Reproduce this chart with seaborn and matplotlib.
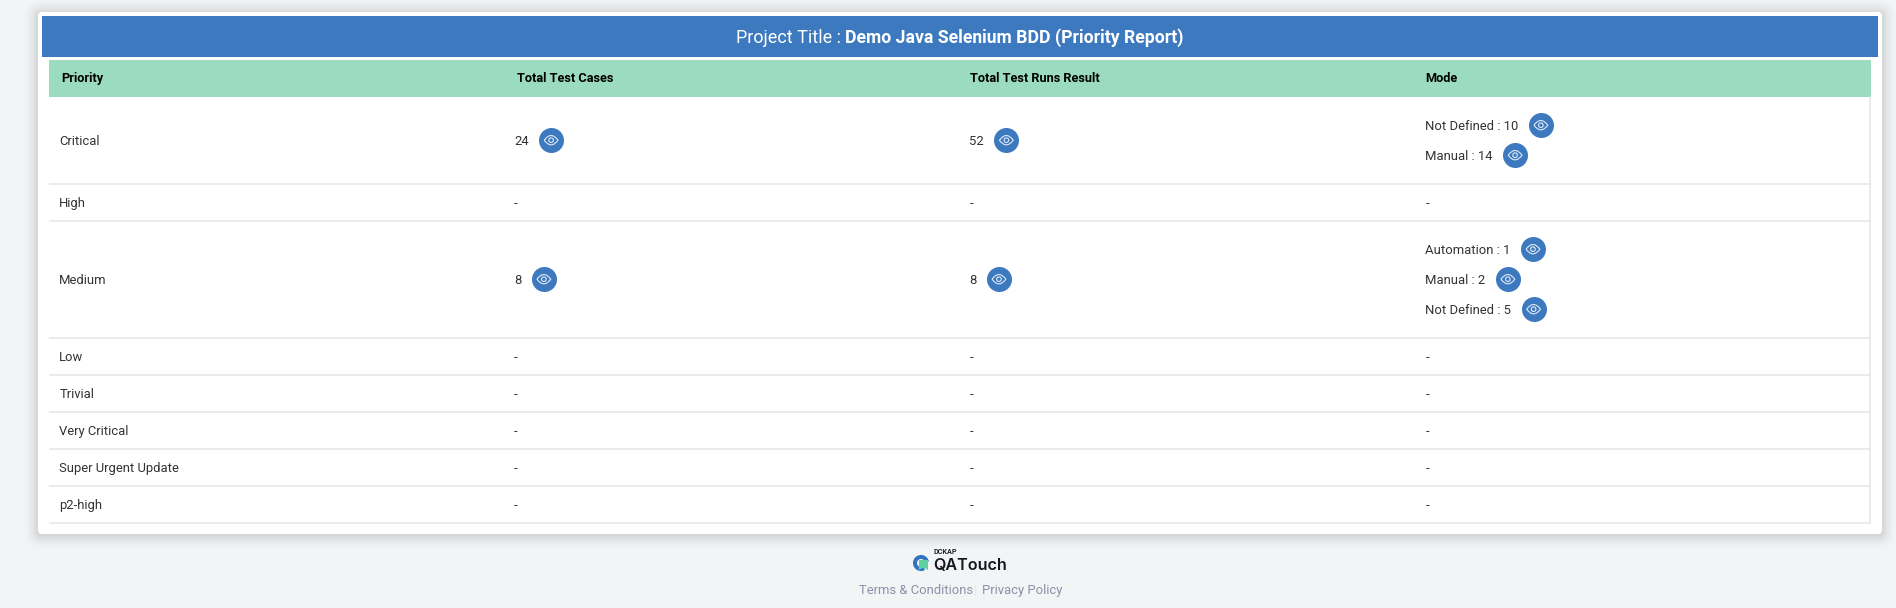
import numpy as np
import pandas as pd
import seaborn as sns
import matplotlib
matplotlib.use("Agg")
import matplotlib.pyplot as plt
from matplotlib.patches import FancyBboxPatch, Rectangle, Wedge, Polygon
from matplotlib.path import Path

# ---------- chart content ----------
project_prefix = "Project Title : "
project_name = "Demo Java Selenium BDD (Priority Report)"
columns = ["Priority", "Total Test Cases", "Total Test Runs Result", "Mode"]
priorities = ["Critical", "High", "Medium", "Low", "Trivial", "Very Critical",
              "Super Urgent Update", "p2-high"]
total_cases = [24, None, 8, None, None, None, None, None]
total_runs = [52, None, 8, None, None, None, None, None]
mode_names = [["Not Defined", "Manual"], [], ["Automation", "Manual", "Not Defined"],
              [], [], [], [], []]
mode_counts = [[10, 14], [], [1, 2, 5], [], [], [], [], []]
footer_links = ["Terms & Conditions", "Privacy Policy"]

# ---------- layout (pixels) ----------
W, H = 1896, 608
ROW_LINES = [97, 184, 221, 338, 375, 412, 449, 486, 522.5]
COL_TEXT = [59.3, 514.2, 969.3, 1425.3]
COL_HEAD = [61.5, 516.8, 970, 1425.5]
BLUE, GREEN, BG = "#3d79bf", "#9bdcc1", "#f3f4f6"
TXT = "#333333"
FS = 13 * 0.72  # 13 px at dpi 100
BASE = 4.3      # text baseline offset below a row centre

sns.set_theme(style="white")
plt.rcParams["font.family"] = ["Roboto", "DejaVu Sans"]

fig = plt.figure(figsize=(W / 100, H / 100), dpi=100, facecolor=BG)
ax = fig.add_axes([0, 0, 1, 1])
ax.set_xlim(0, W)
ax.set_ylim(H, 0)
ax.axis("off")

# card shadow and card
for grow, alpha in zip(range(14, 0, -1), np.linspace(0.003, 0.014, 14)):
    ax.add_patch(FancyBboxPatch((38 - grow, 13 - grow), 1844 + 2 * grow, 522 + 2 * grow,
                                boxstyle=f"round,pad=0,rounding_size={4 + grow}",
                                fc="black", ec="none", alpha=alpha, zorder=1))
ax.add_patch(FancyBboxPatch((38, 12), 1844, 522, boxstyle="round,pad=0,rounding_size=4",
                            fc="white", ec="none", zorder=2))

# title band and table header
ax.add_patch(Rectangle((42, 16), 1836, 41, fc=BLUE, ec="none", zorder=3))
ax.add_patch(Rectangle((49, 60), 1822, 37, fc=GREEN, ec="none", zorder=3))
ax.text(841, 43, project_prefix.rstrip(), ha="right", va="baseline", color="white",
        fontsize=18 * 0.72, zorder=4)
ax.text(845, 43, project_name, ha="left", va="baseline", color="white",
        fontsize=17.6 * 0.72, fontweight="bold", zorder=4)
for x, label in zip(COL_HEAD, columns):
    ax.text(x, 78.5 + 3.7, label, ha="left", va="baseline", color="black", fontsize=12.7 * 0.72,
            fontweight="bold", zorder=4)

# table rows
for y in ROW_LINES[1:]:
    ax.plot([49, 1871], [y, y], color="#e6e6e6", lw=1.1, zorder=3, solid_capstyle="butt")
ax.plot([1870.5, 1870.5], [97, 522.5], color="#e6e6e6", lw=1.1, zorder=3)

renderer = fig.canvas.get_renderer()
buttons = []


def cell(x, y, label, button):
    t = ax.text(x, y + BASE, label, ha="left", va="baseline", color=TXT, fontsize=FS, zorder=4)
    if button:
        right = t.get_window_extent(renderer).x1
        buttons.append({"x": right + 22.3, "y": y - 0.3})


for i, name in enumerate(priorities):
    yc = (ROW_LINES[i] + ROW_LINES[i + 1]) / 2
    ax.text(COL_TEXT[0], yc + BASE, name, ha="left", va="baseline", color=TXT, fontsize=FS, zorder=4)
    for col, val in ((1, total_cases[i]), (2, total_runs[i])):
        cell(COL_TEXT[col], yc, "-" if val is None else str(val), val is not None)
    n = len(mode_names[i])
    if n == 0:
        cell(COL_TEXT[3], yc, "-", False)
    for j, (m, c) in enumerate(zip(mode_names[i], mode_counts[i])):
        cell(COL_TEXT[3], yc + (j - (n - 1) / 2) * 30, f"{m} : {c}", True)

# eye buttons
btn = pd.DataFrame(buttons)
sns.scatterplot(data=btn, x="x", y="y", ax=ax, s=324, color=BLUE, linewidth=0,
                zorder=5, legend=False)
outline = Path([(-1, 0), (0, 1.35), (1, 0), (0, -1.35), (-1, 0)],
               [Path.MOVETO, Path.CURVE3, Path.CURVE3, Path.CURVE3, Path.CURVE3])
pupil = Path(Path.unit_circle().vertices * 0.33, Path.unit_circle().codes)
eye = Path.make_compound_path(outline, pupil)
sns.scatterplot(data=btn, x="x", y="y", ax=ax, s=182, marker=eye, facecolors="none",
                edgecolor="#dfe9f5", linewidth=0.8, zorder=6, legend=False)
ax.set_xlim(0, W)
ax.set_ylim(H, 0)
ax.set_xlabel("")
ax.set_ylabel("")
ax.axis("off")

# footer logo
ax.add_patch(Wedge((921, 563), 8, 60, 350, width=4, fc="#2f74c0", ec="none", zorder=4))
ax.add_patch(Polygon([(919, 560), (928, 560), (928, 570), (923.5, 567.5), (919, 570)],
                     closed=True, fc="#5fd0a0", ec="none", zorder=5))
ax.text(934, 551.5, "DCKAP", ha="left", va="center", color="#222222",
        fontsize=5.2, fontweight="bold", zorder=4)
ax.text(933.5, 570, "QATouch", ha="left", va="baseline", color="#15151f",
        fontsize=11.6, fontweight="semibold", family=["Inter", "DejaVu Sans"], zorder=4)

# footer links
ax.text(859, 594, footer_links[0], ha="left", va="baseline", color="#8f8fa8", fontsize=FS, zorder=4)
ax.text(976, 590, "|", ha="center", va="center", color="#e4e5ea", fontsize=FS, zorder=4)
ax.text(982, 594, footer_links[1], ha="left", va="baseline", color="#8f8fa8", fontsize=FS, zorder=4)

fig.savefig("out.png", dpi=100, facecolor=BG)
